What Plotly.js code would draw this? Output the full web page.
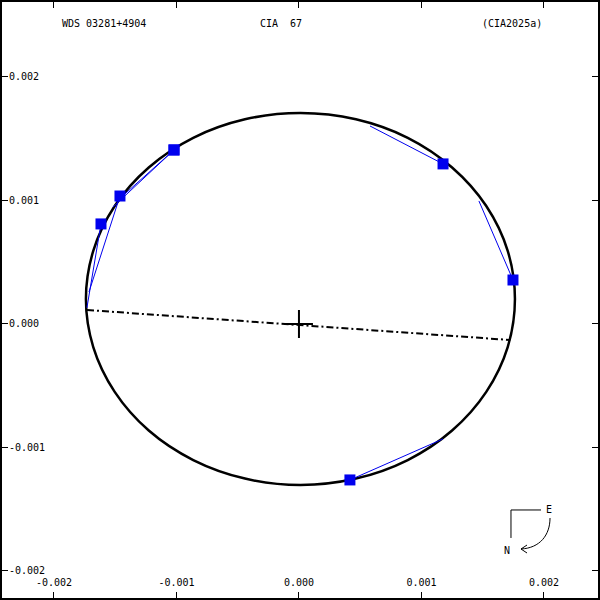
<!DOCTYPE html>
<html>
<head>
<meta charset="utf-8">
<script src="https://cdn.plot.ly/plotly-3.0.1.min.js"></script>
<style>html,body{margin:0;padding:0;background:#fff;}#chart{width:600px;height:600px;}</style>
</head>
<body>
<div id="chart"></div>
<script>
// ---- data ----
const orbitX = [0.001763, 0.001704, 0.001529, 0.001250, 0.000888, 0.000465, 0.000012, -0.000441, -0.000863, -0.001226, -0.001504, -0.001679, -0.001739, -0.001679, -0.001504, -0.001226, -0.000863, -0.000441, 0.000012, 0.000465, 0.000888, 0.001250, 0.001529, 0.001704, 0.001763];
const orbitY = [0.000202, 0.000592, 0.000955, 0.001267, 0.001507, 0.001657, 0.001708, 0.001657, 0.001507, 0.001267, 0.000955, 0.000592, 0.000202, -0.000187, -0.000550, -0.000863, -0.001102, -0.001252, -0.001304, -0.001252, -0.001102, -0.000863, -0.000550, -0.000187, 0.000202];

const obsX  = [-0.001020, -0.001020, -0.001461, -0.001616, 0.001176, 0.001747, 0.000416];
const obsY  = [ 0.001409,  0.001409,  0.001036,  0.000810, 0.001296, 0.000356, -0.001263];
const predX = [-0.001518, -0.001494, -0.001714, -0.001731, 0.000580, 0.001469, 0.001176];
const predY = [ 0.000947,  0.000988,  0.000259,  0.000130, 0.001603, 0.000996, -0.000931];

const nodeX = [-0.001730, 0.001725];
const nodeY = [ 0.000113, -0.000130];

const primaryX = [0];
const primaryY = [0];

const tickVals = [-0.002, -0.001, 0, 0.001, 0.002];
const tickText = ["-0.002", "-0.001", "0.000", "0.001", "0.002"];

const titleLeft = "WDS 03281+4904";
const titleMid = "CIA\u00a0\u00a067";
const titleRight = "(CIA2025a)";

// ---- build ----
const segX = [], segY = [];
for (let i = 0; i < obsX.length; i++) {
  segX.push(obsX[i], predX[i], null);
  segY.push(obsY[i], predY[i], null);
}

const FONT = "DejaVu Sans Mono, Liberation Mono, monospace";
const M = 2, W = 600 - 2 * M;
function P(px, py) { return [((px - M) / W).toFixed(4), (1 - (py - M) / W).toFixed(4)]; }

const traces = [
  {x: orbitX, y: orbitY, mode: "lines", line: {color: "black", width: 2.5, shape: "spline", smoothing: 1}, hoverinfo: "skip"},
  {x: nodeX, y: nodeY, mode: "lines", line: {color: "black", width: 2, dash: "7px,3px,2px,3px"}, hoverinfo: "skip"},
  {x: segX, y: segY, mode: "lines", line: {color: "#0000ee", width: 1}, hoverinfo: "skip"},
  {x: obsX, y: obsY, mode: "markers", marker: {symbol: "square", size: 11, color: "#0000ee"}, hoverinfo: "skip"},
  {x: primaryX, y: primaryY, mode: "markers", marker: {symbol: "cross-thin-open", size: 20, color: "black", line: {color: "black", width: 2}}, hoverinfo: "skip"}
];

const a = P(550,518), b = P(550,535), c = P(540,548), d = P(521,549), h1 = P(527,545), h2 = P(527,553);
const hl0 = P(511,510), hl1 = P(541,510), vl1 = P(511,538);
const tl = P(60,24), tm = P(258,24), tr = P(480,24), eP = P(549,509), nP = P(507,550);

const axisCommon = {
  showgrid: false, zeroline: false, showline: true, linecolor: "black", linewidth: 4,
  mirror: "allticks", ticks: "inside", ticklen: 6, tickwidth: 1, tickcolor: "black",
  ticklabelposition: "inside", tickfont: {family: FONT, size: 10, color: "black"},
  tickmode: "array", tickvals: tickVals, ticktext: tickText, fixedrange: true
};

const tf = {family: FONT, size: 10, color: "black"};
function ann(text, p, xanchor) {
  return {text: text, xref: "paper", yref: "paper", x: +p[0], y: +p[1], xanchor: xanchor, yanchor: "middle", showarrow: false, font: tf};
}

const layout = {
  width: 600, height: 600,
  margin: {l: M, r: M, t: M, b: M},
  paper_bgcolor: "white", plot_bgcolor: "white",
  showlegend: false,
  xaxis: Object.assign({}, axisCommon, {range: [-0.002424, 0.002441], ticklabelstandoff: 3}),
  yaxis: Object.assign({}, axisCommon, {range: [-0.002219, 0.002607]}),
  annotations: [
    ann(titleLeft, tl, "left"),
    ann(titleMid, tm, "left"),
    ann(titleRight, tr, "left"),
    ann("E", eP, "center"),
    ann("N", nP, "center")
  ],
  shapes: [
    {type: "line", xref: "paper", yref: "paper", x0: +hl0[0], y0: +hl0[1], x1: +hl1[0], y1: +hl1[1], line: {color: "black", width: 1}},
    {type: "line", xref: "paper", yref: "paper", x0: +hl0[0], y0: +hl0[1], x1: +vl1[0], y1: +vl1[1], line: {color: "black", width: 1}},
    {type: "path", xref: "paper", yref: "paper", path: `M ${a[0]},${a[1]} C ${b[0]},${b[1]} ${c[0]},${c[1]} ${d[0]},${d[1]}`, line: {color: "black", width: 1}},
    {type: "path", xref: "paper", yref: "paper", path: `M ${h1[0]},${h1[1]} L ${d[0]},${d[1]} L ${h2[0]},${h2[1]}`, line: {color: "black", width: 1}}
  ]
};

Plotly.newPlot("chart", traces, layout, {staticPlot: true, displayModeBar: false});
</script>
</body>
</html>
